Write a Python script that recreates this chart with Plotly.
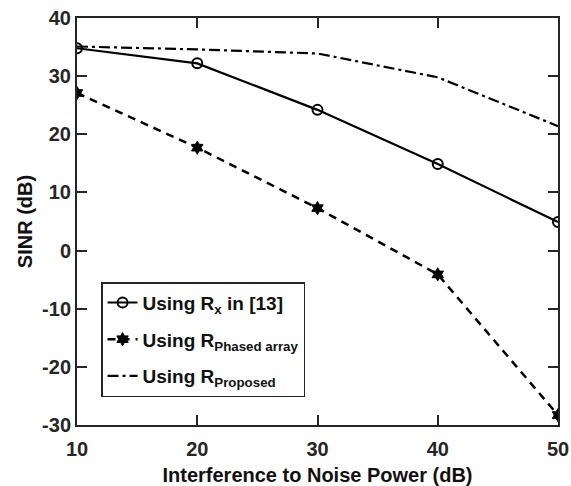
import plotly.graph_objects as go

x_vals = [10, 20, 30, 40, 50]
rx_vals = [34.8, 32.2, 24.2, 14.9, 4.9]
phased_vals = [27.1, 17.7, 7.3, -4.1, -28.3]
proposed_vals = [35.1, 34.6, 33.9, 29.8, 21.4]
names = ["Using R<sub>x</sub> in [13]", "Using R<sub>Phased array</sub>", "Using R<sub>Proposed</sub>"]
x_ticks = [10, 20, 30, 40, 50]
y_ticks = [-30, -20, -10, 0, 10, 20, 30, 40]

c = "#000000"
axc = "#262626"
fam = "Liberation Sans, Arial, sans-serif"
fig = go.Figure()
fig.add_trace(go.Scatter(x=x_vals, y=rx_vals, name=names[0], mode="lines+markers", legendgroup="a",
                         line=dict(color=c, width=2.2, dash="solid"),
                         marker=dict(symbol="circle-open", size=10, color=c, line=dict(width=2))))
fig.add_trace(go.Scatter(x=x_vals, y=phased_vals, name=names[1], mode="lines+markers", legendgroup="b",
                         line=dict(color=c, width=2.5, dash="8px,6px"),
                         marker=dict(symbol="hexagram", size=10, color=c, line=dict(width=1, color=c))))
fig.add_trace(go.Scatter(x=x_vals, y=proposed_vals, name=names[2], mode="lines", legendgroup="c",
                         line=dict(color=c, width=2.2, dash="11px,4px,3px,4px")))

axis_common = dict(showgrid=False, zeroline=False, showline=True, linewidth=2, linecolor=axc,
                   mirror="ticks", ticks="inside", ticklen=10, tickwidth=2, tickcolor=axc,
                   tickfont=dict(family=fam, size=20, color=axc, weight="bold"))
fig.update_layout(
    width=571, height=486,
    margin=dict(l=77, r=13, t=18, b=61, autoexpand=False),
    paper_bgcolor="white", plot_bgcolor="white",
    font=dict(family=fam, size=20, color=axc),
    xaxis=dict(range=[10, 50], tickvals=x_ticks, ticktext=[str(v) for v in x_ticks], ticklabelstandoff=5,
               automargin=False,
               title=dict(text="<b>Interference to Noise Power (dB)</b>", standoff=25,
                          font=dict(family=fam, size=20, color="#111")), **axis_common),
    yaxis=dict(range=[-30, 40], tickvals=y_ticks, ticktext=[str(v) for v in y_ticks],
               automargin=False,
               title=dict(text="<b>SINR (dB)</b>", standoff=4, font=dict(family=fam, size=20, color="#111")),
               **axis_common),
    legend=dict(x=0.05, y=0.351, xanchor="left", yanchor="top",
                bgcolor="white", bordercolor=axc, borderwidth=1.5,
                font=dict(family=fam, size=19, color="#111", weight="bold"),
                tracegroupgap=9, itemwidth=30),
    showlegend=True,
)
fig.write_html("out.html")
